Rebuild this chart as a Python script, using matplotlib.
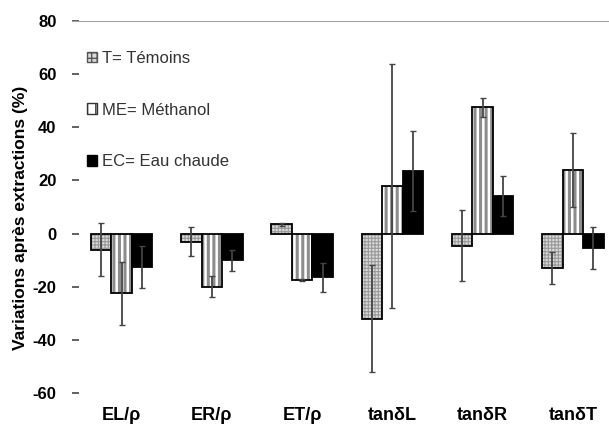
import numpy as np
import matplotlib.pyplot as plt
from matplotlib.patches import Patch

plt.rcParams['font.family'] = ['Liberation Sans', 'DejaVu Sans']
plt.rcParams['axes.unicode_minus'] = False

cats = ['EL/ρ', 'ER/ρ', 'ET/ρ', 'tanδL', 'tanδR', 'tanδT']
temoins = [-6, -3, 3.5, -32, -4.5, -13]
methanol = [-22.5, -20, -17.5, 18, 47.5, 24]
eau_chaude = [-12.5, -10, -16.5, 23.5, 14, -5.5]
err_t = [10, 5.5, 0.5, 20, 13.5, 6]
err_me = [12, 4, 0.5, 46, 3.5, 14]
err_ec = [8, 4, 5.5, 15, 7.5, 8]

x = np.arange(len(cats))
w = 0.227

fig = plt.figure(figsize=(6.09, 4.30), dpi=100)
ax = fig.add_axes([0.118, 0.086, 0.897, 0.865])

# T: checkered grey
with plt.rc_context({'hatch.linewidth': 0.8}):
    ax.bar(x - w, temoins, w, color='#dadada', hatch='+++++', edgecolor='#9a9a9a', linewidth=0)
    t_leg = Patch(facecolor='#dadada', hatch='+++', edgecolor='#555555', label='T= Témoins')
ax.bar(x - w, temoins, w, fill=False, edgecolor='black', linewidth=1.3)
# ME: vertical stripes
with plt.rc_context({'hatch.linewidth': 2.2}):
    ax.bar(x, methanol, w, color='white', hatch='|||', edgecolor='#8c8c8c', linewidth=0)
    me_leg = Patch(facecolor='white', hatch='||', edgecolor='#333333', label='ME= Méthanol')
ax.bar(x, methanol, w, fill=False, edgecolor='black', linewidth=1.3)
# EC: black
ax.bar(x + w, eau_chaude, w, color='black', edgecolor='black', linewidth=1.3)
ec_leg = Patch(facecolor='black', edgecolor='black', label='EC= Eau chaude')

for dx, vals, errs in [(-w, temoins, err_t), (0, methanol, err_me), (w, eau_chaude, err_ec)]:
    ax.errorbar(x + dx, vals, yerr=errs, fmt='none', ecolor='#444444', elinewidth=1.3, capsize=2)

ax.legend(handles=[t_leg, me_leg, ec_leg], loc='upper left', bbox_to_anchor=(0.0, 0.96),
          frameon=False, handlelength=0.6, handleheight=0.6, handletextpad=0.3,
          labelspacing=2.2, fontsize=12, labelcolor='#333333')

ax.set_xlim(-0.55, 5.5)
ax.set_ylim(-60, 80)
ax.set_yticks(np.arange(-60, 81, 20))
ax.axhline(80, color='#a0a0a0', linewidth=1.5)
for s in ax.spines.values():
    s.set_visible(False)
ax.tick_params(axis='y', direction='in', length=5, width=1.3, color='#555555', labelsize=12, pad=11)
ax.tick_params(axis='x', length=0, labelsize=13, pad=10)
ax.set_xticks(x)
ax.set_xticklabels(cats, fontweight='bold')
for lbl in ax.get_yticklabels():
    lbl.set_fontweight('bold')
ax.set_ylabel('Variations après extractions (%)', fontsize=12.5, fontweight='bold')
ax.yaxis.set_label_coords(-0.08, 0.47)

fig.savefig('out.png', dpi=100)
